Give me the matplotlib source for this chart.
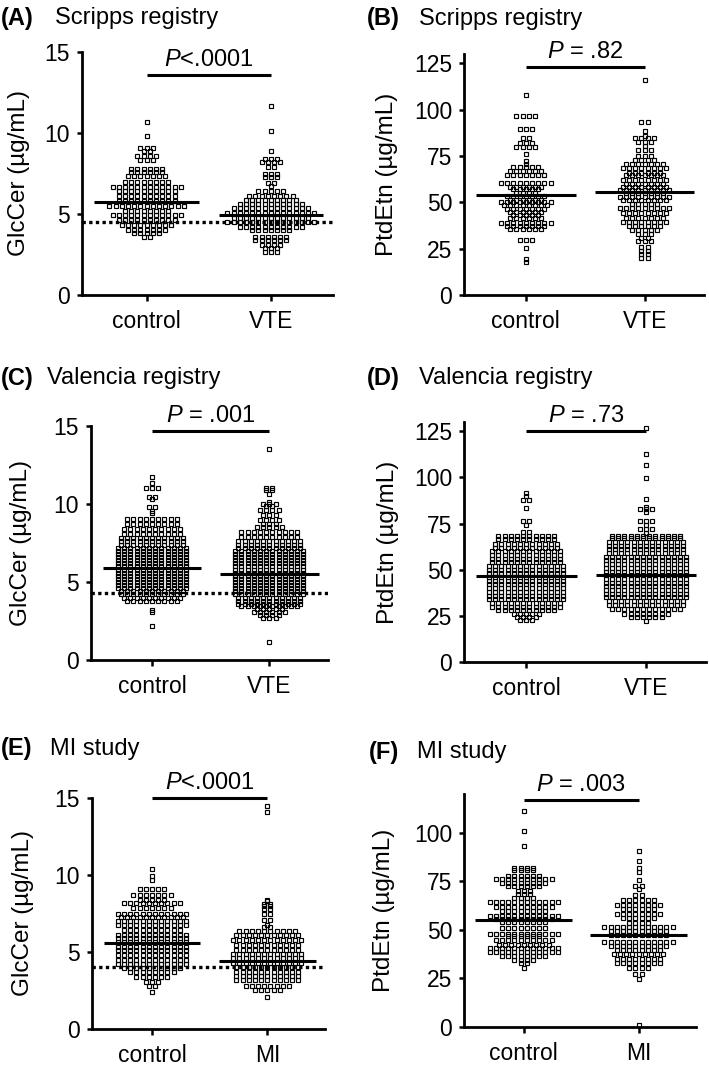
"""Scatter dot plots of plasma GlcCer and PtdEtn in VTE and MI cohorts."""

import matplotlib

matplotlib.use("Agg")
import matplotlib.pyplot as plt
import numpy as np

plt.rcParams["font.family"] = ["Liberation Sans", "DejaVu Sans"]
plt.rcParams["mathtext.fontset"] = "custom"
plt.rcParams["mathtext.rm"] = "Liberation Sans"
plt.rcParams["mathtext.it"] = "Liberation Sans:italic"

W, H = 709, 1071

# ---- data: row values and number of points in each row ----
# (A) Scripps registry, GlcCer
a_ctrl_lvl = [10.65, 9.8, 9.1, 8.9, 8.6, 8.35, 7.8, 7.6, 7.35, 7.0, 6.65, 6.4, 6.1,
              5.8, 5.5, 5.2, 4.95, 4.65, 4.3, 4.0, 3.8, 3.6]
a_ctrl_n = [1, 1, 3, 2, 4, 3, 6, 6, 7, 8, 12, 10, 10, 10, 13, 8, 12, 10, 9, 7, 5, 2]
a_vte_lvl = [11.65, 10.1, 8.9, 8.4, 8.2, 7.9, 7.5, 7.3, 6.9, 6.7, 6.4, 6.1, 5.85, 5.6,
             5.35, 5.05, 4.75, 4.5, 4.2, 4.0, 3.6, 3.4, 3.1, 2.9, 2.65]
a_vte_n = [1, 1, 1, 3, 4, 2, 3, 3, 2, 1, 5, 8, 9, 11, 13, 15, 13, 15, 11, 7, 6, 6, 4, 3, 3]

# (B) Scripps registry, PtdEtn
b_ctrl_lvl = [108, 96.5, 89.5, 84.5, 82, 80, 76, 72.5, 70.5, 69, 67, 65, 60.5, 58.5, 57,
              55, 53.5, 51.5, 50, 48.5, 46.5, 45, 43, 41.5, 39, 37, 35.5, 29.5, 25.5,
              19.5, 18]
b_ctrl_n = [1, 4, 3, 2, 3, 4, 1, 1, 1, 5, 6, 7, 9, 6, 5, 4, 7, 6, 9, 8, 7, 6, 5, 6, 9,
            7, 6, 3, 1, 1, 1]
b_vte_lvl = [116, 93.5, 88.5, 86, 84.5, 82.5, 80.5, 78, 75, 73, 70.5, 68.5, 66, 64.5,
             62, 60, 58.5, 56.5, 55, 53, 51, 49, 47, 44, 41.5, 39.5, 37, 35, 33, 31,
             29, 26, 24, 22, 20]
b_vte_n = [1, 2, 1, 1, 4, 3, 1, 3, 3, 4, 7, 8, 6, 7, 8, 7, 8, 9, 7, 9, 8, 5, 9, 8, 7,
           8, 6, 5, 3, 2, 3, 2, 2, 2, 2]

# (C) Valencia registry, GlcCer
c_ctrl_lvl = [11.7, 11.35, 11.05, 10.45, 10.3, 9.8, 9.55, 9.4, 9.05, 8.75, 8.4, 8.1,
              7.85, 7.6, 7.4, 7.2, 7.0, 6.8, 6.6, 6.4, 6.2, 6.0, 5.8, 5.6, 5.4, 5.2,
              5.0, 4.8, 4.6, 4.4, 4.2, 4.0, 3.8, 3.2, 3.05, 2.15]
c_ctrl_n = [1, 1, 3, 2, 1, 2, 1, 1, 9, 9, 10, 10, 11, 11, 11, 12, 12, 12, 12, 12, 12,
            12, 12, 12, 12, 12, 12, 12, 12, 11, 11, 10, 9, 1, 1, 1]
c_vte_lvl = [13.55, 11.0, 10.9, 10.65, 10.1, 10.0, 9.85, 9.6, 9.3, 9.0, 8.75, 8.55,
             8.2, 7.9, 7.6, 7.4, 7.2, 7.0, 6.8, 6.6, 6.4, 6.2, 6.0, 5.8, 5.6, 5.4,
             5.2, 5.0, 4.8, 4.6, 4.4, 4.2, 4.0, 3.8, 3.6, 3.45, 3.25, 3.1, 2.9, 2.7,
             1.15]
c_vte_n = [1, 2, 2, 1, 1, 3, 2, 4, 3, 4, 3, 5, 10, 10, 11, 11, 11, 12, 12, 12, 12, 12,
           12, 12, 12, 12, 12, 12, 12, 12, 12, 12, 11, 11, 11, 10, 5, 6, 4, 3, 1]

# (D) Valencia registry, PtdEtn
d_ctrl_lvl = [91.5, 90, 88, 83.5, 76.5, 74, 70.5, 68.5, 66.5, 64, 62, 60, 58, 56, 54,
              52, 50, 48, 46, 44, 42, 40, 38, 36, 34, 32, 30, 28, 26, 24.5, 23]
d_ctrl_n = [1, 1, 2, 1, 2, 1, 2, 10, 10, 11, 11, 12, 12, 12, 12, 13, 13, 13, 13, 13,
            13, 13, 13, 13, 13, 12, 12, 10, 5, 4, 3]
d_vte_lvl = [127, 112.5, 106.5, 99.5, 88.5, 84, 83, 81, 76.5, 74, 72, 70, 68.5, 67,
             65, 63, 61, 59, 57, 55, 53, 51, 49, 47, 45, 43, 41, 39, 37, 35, 33, 31,
             28.5, 26, 24.5, 22]
d_vte_n = [1, 1, 1, 1, 1, 1, 3, 1, 3, 1, 3, 1, 12, 12, 13, 13, 13, 13, 14, 14, 14, 14,
           14, 14, 14, 14, 14, 14, 14, 14, 13, 13, 12, 8, 6, 1]

# (E) MI study, GlcCer
e_ctrl_lvl = [10.4, 9.95, 9.65, 9.1, 8.7, 8.4, 8.15, 7.85, 7.5, 7.3, 7.0, 6.75, 6.4,
              6.1, 5.9, 5.65, 5.35, 5.1, 4.8, 4.5, 4.25, 3.95, 3.7, 3.4, 3.05, 2.8, 2.4]
e_ctrl_n = [1, 1, 1, 5, 7, 5, 10, 7, 12, 11, 12, 12, 10, 12, 12, 12, 12, 12, 12, 12,
            12, 10, 8, 6, 3, 2, 1]
e_mi_lvl = [14.45, 14.1, 8.4, 8.3, 8.1, 8.0, 7.8, 7.5, 7.05, 6.75, 6.6, 6.35, 6.1, 5.8,
            5.45, 5.15, 4.85, 4.6, 4.3, 4.05, 3.7, 3.45, 3.15, 2.8, 2.55, 2.1]
e_mi_n = [1, 1, 1, 1, 2, 2, 2, 2, 2, 1, 2, 10, 11, 12, 11, 11, 12, 12, 12, 11, 11, 11,
          11, 8, 5, 1]

# (F) MI study, PtdEtn
f_ctrl_lvl = [111, 101, 93, 82, 81, 78, 76, 74, 72.5, 70, 68.5, 66.5, 64.5, 62, 60, 57,
              55.5, 54, 51, 48, 47, 45, 42, 40.5, 38.5, 36.5, 34.5, 33, 30.5]
f_ctrl_n = [1, 1, 1, 4, 4, 6, 10, 8, 6, 3, 3, 4, 12, 10, 8, 12, 10, 8, 8, 12, 6, 10, 9,
            12, 12, 8, 4, 2, 1]
f_mi_lvl = [90.5, 85.5, 82, 80, 75.5, 72.5, 71, 68, 65.5, 63, 61, 58, 56, 53.5, 51.5,
            49.5, 47.5, 44, 41.5, 39.5, 37.5, 35, 33, 30.5, 27.5, 24.5, 0.8]
f_mi_n = [1, 1, 1, 1, 1, 2, 1, 2, 6, 8, 6, 8, 6, 4, 12, 10, 10, 12, 10, 8, 9, 8, 8, 4,
          2, 1, 1]

medians = {"A": (5.75, 4.95), "B": (54, 55.5), "C": (5.9, 5.5),
           "D": (46.5, 47), "E": (5.6, 4.4), "F": (55, 47.5)}
ref_lines = {"A": 4.5, "C": 4.3, "E": 4.05}
p_texts = {"A": "$P$<.0001", "B": "$P$ = .82", "C": "$P$ = .001",
           "D": "$P$ = .73", "E": "$P$<.0001", "F": "$P$ = .003"}
p_bar_y = {"A": 13.6, "B": 123, "C": 14.7, "D": 125, "E": 15.0, "F": 117}
titles = {"A": "Scripps registry", "B": "Scripps registry", "C": "Valencia registry",
          "D": "Valencia registry", "E": "MI study", "F": "MI study"}
groups = {"A": ["control", "VTE"], "B": ["control", "VTE"], "C": ["control", "VTE"],
          "D": ["control", "VTE"], "E": ["control", "MI"], "F": ["control", "MI"]}
ylabels = {"A": "GlcCer (µg/mL)", "B": "PtdEtn (µg/mL)", "C": "GlcCer (µg/mL)",
           "D": "PtdEtn (µg/mL)", "E": "GlcCer (µg/mL)", "F": "PtdEtn (µg/mL)"}
yticks = {"A": [0, 5, 10, 15], "B": [0, 25, 50, 75, 100, 125], "C": [0, 5, 10, 15],
          "D": [0, 25, 50, 75, 100, 125], "E": [0, 5, 10, 15], "F": [0, 25, 50, 75, 100]}
ymax = {"A": 15, "B": 130, "C": 15, "D": 130, "E": 15, "F": 120}
series = {
    "A": [(a_ctrl_lvl, a_ctrl_n), (a_vte_lvl, a_vte_n)],
    "B": [(b_ctrl_lvl, b_ctrl_n), (b_vte_lvl, b_vte_n)],
    "C": [(c_ctrl_lvl, c_ctrl_n), (c_vte_lvl, c_vte_n)],
    "D": [(d_ctrl_lvl, d_ctrl_n), (d_vte_lvl, d_vte_n)],
    "E": [(e_ctrl_lvl, e_ctrl_n), (e_mi_lvl, e_mi_n)],
    "F": [(f_ctrl_lvl, f_ctrl_n), (f_mi_lvl, f_mi_n)],
}

# ---- layout (pixels): left, right, top, bottom of plot area ----
boxes = {"A": (82, 333, 52, 295), "B": (464, 704, 54, 295),
         "C": (91, 328, 426, 660), "D": (464, 706, 422, 662),
         "E": (92, 325, 798, 1029), "F": (464, 696, 794, 1027)}
ylabel_x = {"A": 19, "B": 387, "C": 21, "D": 388, "E": 23, "F": 384}
title_pos = {"A": (1, 55, 18), "B": (367, 419, 19), "C": (1, 47, 378),
             "D": (367, 419, 378), "E": (1, 50, 749), "F": (369, 417, 752)}

XLIM = (-0.52, 1.5)
PITCH_PX = 6.2


def swarm(ax, center, levels, counts, pitch):
    xs, ys = [], []
    for lv, n in zip(levels, counts):
        off = (np.arange(n) - (n - 1) / 2) * pitch
        xs.extend(center + off)
        ys.extend([lv] * n)
    ax.plot(xs, ys, ls="none", marker="s", ms=3.4, mfc="none", mec="black",
            mew=0.85, zorder=3)


fig = plt.figure(figsize=(W / 100, H / 100), dpi=100)

for key in "ABCDEF":
    l, r, t, b = boxes[key]
    ax = fig.add_axes([l / W, 1 - b / H, (r - l) / W, (b - t) / H])
    ax.set_xlim(*XLIM)
    ax.set_ylim(0, ymax[key])
    pitch = PITCH_PX * (XLIM[1] - XLIM[0]) / (r - l)

    for i, (lvl, n) in enumerate(series[key]):
        swarm(ax, i, lvl, n, pitch)
        ax.plot([i - 0.42, i + 0.42], [medians[key][i]] * 2, color="black", lw=2.2,
                solid_capstyle="butt", zorder=5)

    if key in ref_lines:
        ax.axhline(ref_lines[key], color="black", lw=2.4, ls=(0, (1, 1)), zorder=6)

    yb = p_bar_y[key]
    ax.plot([0, 1], [yb, yb], color="black", lw=2.2, solid_capstyle="butt",
            clip_on=False, zorder=5)
    ax.annotate(p_texts[key], xy=(0.5, yb), xytext=(0, 3), textcoords="offset points",
                ha="center", va="bottom", fontsize=17, annotation_clip=False)

    ax.set_xticks([0, 1])
    ax.set_xticklabels(groups[key])
    ax.set_yticks(yticks[key])
    ax.spines[["top", "right"]].set_visible(False)
    for s in ("left", "bottom"):
        ax.spines[s].set_linewidth(2.0)
    ax.tick_params(axis="y", direction="out", length=3.5, width=1.8, labelsize=16.5,
                   pad=5)
    ax.tick_params(axis="x", direction="out", length=4, width=1.8, labelsize=16.5,
                   pad=7)

    ax.set_ylabel(ylabels[key], fontsize=17.5, va="center")
    ax.yaxis.set_label_coords((ylabel_x[key] - l) / (r - l), 0.5)

    lx, tx, ty = title_pos[key]
    fig.text(lx / W, 1 - ty / H, f"({key})", fontsize=17, fontweight="bold",
             ha="left", va="center")
    fig.text(tx / W, 1 - ty / H, titles[key], fontsize=17, ha="left", va="center")

fig.savefig("out.png", dpi=100)
